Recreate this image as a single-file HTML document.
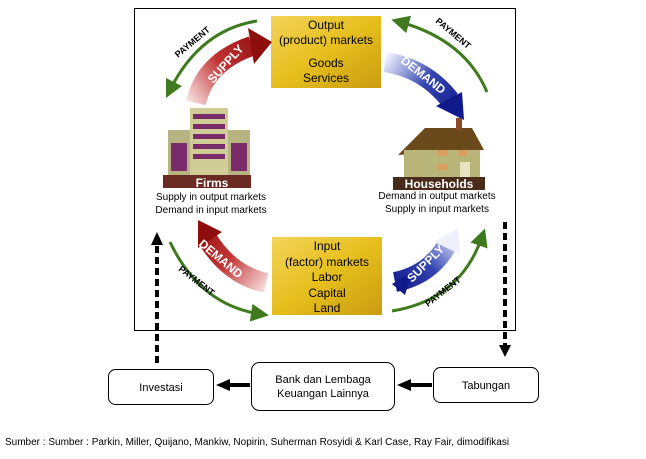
<!DOCTYPE html>
<html><head><meta charset="utf-8"><style>
body{margin:0;background:#fff;}
svg{display:block;font-family:"Liberation Sans",Arial,sans-serif;}
</style></head><body>
<svg width="646" height="459" viewBox="0 0 646 459">
<defs>
<linearGradient id="gold" x1="0" y1="0" x2="1" y2="1">
<stop offset="0" stop-color="#f3d35a"/><stop offset="0.5" stop-color="#e6bf1d"/><stop offset="1" stop-color="#c99c10"/></linearGradient>
<linearGradient id="r1" gradientUnits="userSpaceOnUse" x1="185" y1="100" x2="265" y2="40"><stop offset="0" stop-color="#fbe8e8"/><stop offset="0.5" stop-color="#c23434"/><stop offset="1" stop-color="#8e0d0d"/></linearGradient>
<linearGradient id="b1" gradientUnits="userSpaceOnUse" x1="385" y1="60" x2="460" y2="115"><stop offset="0" stop-color="#eef0ff"/><stop offset="0.5" stop-color="#3545b0"/><stop offset="1" stop-color="#101a8a"/></linearGradient>
<linearGradient id="r2" gradientUnits="userSpaceOnUse" x1="268" y1="290" x2="190" y2="228"><stop offset="0" stop-color="#fbe8e8"/><stop offset="0.5" stop-color="#c23434"/><stop offset="1" stop-color="#8e0d0d"/></linearGradient>
<linearGradient id="b2" gradientUnits="userSpaceOnUse" x1="455" y1="232" x2="395" y2="290"><stop offset="0" stop-color="#eef0ff"/><stop offset="0.5" stop-color="#3545b0"/><stop offset="1" stop-color="#101a8a"/></linearGradient>
<marker id="g" markerWidth="6" markerHeight="6" refX="3" refY="3" orient="auto" markerUnits="strokeWidth"><path d="M0,0L6,3L0,6z" fill="#3f7a1e"/></marker>
</defs>
<rect x="134.5" y="8.5" width="381" height="322" fill="#fff" stroke="#000"/>
<!-- output box -->
<rect x="271" y="16" width="110" height="72" fill="url(#gold)"/>
<text x="326" y="29" font-size="12" text-anchor="middle">Output</text>
<text x="326" y="44" font-size="12" text-anchor="middle">(product) markets</text>
<text x="326" y="67" font-size="12" text-anchor="middle">Goods</text>
<text x="326" y="82" font-size="12" text-anchor="middle">Services</text>
<!-- input box -->
<rect x="272" y="237" width="110" height="78" fill="url(#gold)"/>
<text x="327" y="250" font-size="12" text-anchor="middle">Input</text>
<text x="327" y="266" font-size="12" text-anchor="middle">(factor) markets</text>
<text x="327" y="281" font-size="12" text-anchor="middle">Labor</text>
<text x="327" y="297" font-size="12" text-anchor="middle">Capital</text>
<text x="327" y="312" font-size="12" text-anchor="middle">Land</text>
<!-- big arrows -->
<path d="M196,103 Q205,62 252,46" fill="none" stroke="url(#r1)" stroke-width="20"/>
<path d="M248,28 L272,42 L254,64 Z" fill="#8e0d0d"/>
<text font-size="12" font-weight="bold" fill="#fff" transform="translate(213,84) rotate(-48)">SUPPLY</text>
<path d="M385,62 Q425,68 450,100" fill="none" stroke="url(#b1)" stroke-width="20"/>
<path d="M436,106 L462,92 L464,120 Z" fill="#101a8a"/>
<text font-size="12" font-weight="bold" fill="#fff" transform="translate(400,62) rotate(38)">DEMAND</text>
<path d="M266,283 Q230,275 208,240" fill="none" stroke="url(#r2)" stroke-width="20"/>
<path d="M198,248 L198,220 L222,232 Z" fill="#8e0d0d"/>
<text font-size="12" font-weight="bold" fill="#fff" transform="translate(198,245) rotate(40)">DEMAND</text>
<path d="M395,282 Q430,275 447,245" fill="none" stroke="url(#b2)" stroke-width="20"/>
<path d="M434,242 L458,228 L460,254 Z" fill="#eef0ff"/>
<path d="M405,295 L392,284 L412,272 Z" fill="#101a8a"/>
<text font-size="12" font-weight="bold" fill="#fff" transform="translate(412,283) rotate(-45)">SUPPLY</text>
<!-- green payment arrows -->
<path d="M257,21 Q200,30 170,90" fill="none" stroke="#3f7a1e" stroke-width="3" marker-end="url(#g)"/>
<text font-size="9" font-weight="bold" transform="translate(178,58) rotate(-40)">PAYMENT</text>
<path d="M487,92 Q465,40 400,22" fill="none" stroke="#3f7a1e" stroke-width="3" marker-end="url(#g)"/>
<text font-size="9" font-weight="bold" transform="translate(435,22) rotate(40)">PAYMENT</text>
<path d="M170,242 Q200,305 260,314" fill="none" stroke="#3f7a1e" stroke-width="3" marker-end="url(#g)"/>
<text font-size="9" font-weight="bold" transform="translate(178,270) rotate(38)">PAYMENT</text>
<path d="M392,311 Q460,300 482,237" fill="none" stroke="#3f7a1e" stroke-width="3" marker-end="url(#g)"/>
<text font-size="9" font-weight="bold" transform="translate(428,307) rotate(-38)">PAYMENT</text>
<!-- firms building -->
<rect x="168" y="130" width="22" height="45" fill="#b7b482"/>
<rect x="228" y="130" width="22" height="45" fill="#b7b482"/>
<rect x="190" y="108" width="38" height="67" fill="#cfcc95"/>
<g fill="#7a2c6a"><rect x="193" y="114" width="32" height="5"/><rect x="193" y="124" width="32" height="5"/><rect x="193" y="134" width="32" height="5"/><rect x="193" y="144" width="32" height="5"/><rect x="193" y="154" width="32" height="5"/><rect x="171" y="143" width="16" height="28"/><rect x="231" y="143" width="16" height="28"/></g>
<rect x="163" y="175" width="88" height="13" fill="#6a2a22"/>
<text x="212" y="187" font-size="12" font-weight="bold" fill="#fff" text-anchor="middle">Firms</text>
<text x="211" y="200" font-size="10" text-anchor="middle">Supply in output markets</text>
<text x="211" y="213" font-size="10" text-anchor="middle">Demand in input markets</text>
<!-- house -->
<path d="M398,155 L425,128 L472,128 L484,150 Z" fill="#6a4a1a"/>
<rect x="404" y="150" width="76" height="28" fill="#b9b478"/>
<rect x="456" y="118" width="6" height="12" fill="#8a4a2a"/>
<g fill="#d9a060"><rect x="438" y="150" width="9" height="6"/><rect x="458" y="150" width="9" height="6"/><rect x="438" y="164" width="9" height="6"/></g>
<rect x="460" y="162" width="10" height="16" fill="#e8e4c0"/>
<rect x="393" y="177" width="92" height="13" fill="#4a2a1a"/>
<text x="439" y="188" font-size="12" font-weight="bold" fill="#fff" text-anchor="middle">Households</text>
<text x="437" y="199" font-size="10" text-anchor="middle">Demand in output markets</text>
<text x="437" y="212" font-size="10" text-anchor="middle">Supply in input markets</text>
<!-- dashed arrows -->
<line x1="157" y1="363" x2="157" y2="245" stroke="#000" stroke-width="4" stroke-dasharray="7,4"/>
<path d="M151,245 L157,232 L163,245 Z" fill="#000"/>
<line x1="505" y1="222" x2="505" y2="345" stroke="#000" stroke-width="4" stroke-dasharray="7,4"/>
<path d="M499,345 L505,357 L511,345 Z" fill="#000"/>
<!-- bottom boxes -->
<rect x="108.5" y="369.5" width="105" height="35" rx="7" fill="#fff" stroke="#000"/>
<text x="161" y="391" font-size="11" text-anchor="middle">Investasi</text>
<rect x="251.5" y="362.5" width="143" height="48" rx="8" fill="#fff" stroke="#000"/>
<text x="323" y="383" font-size="11" text-anchor="middle">Bank dan Lembaga</text>
<text x="323" y="397" font-size="11" text-anchor="middle">Keuangan Lainnya</text>
<rect x="433.5" y="367.5" width="105" height="35" rx="7" fill="#fff" stroke="#000"/>
<text x="486" y="389" font-size="11" text-anchor="middle">Tabungan</text>
<line x1="250" y1="385" x2="228" y2="385" stroke="#000" stroke-width="4"/>
<path d="M230,379 L216,385 L230,391 Z" fill="#000"/>
<line x1="432" y1="385" x2="410" y2="385" stroke="#000" stroke-width="4"/>
<path d="M411,379 L397,385 L411,391 Z" fill="#000"/>
<text x="5" y="445" font-size="10">Sumber : Sumber : Parkin, Miller, Quijano,  Mankiw, Nopirin, Suherman Rosyidi &amp; Karl Case, Ray Fair, dimodifikasi</text>
</svg>
</body></html>
